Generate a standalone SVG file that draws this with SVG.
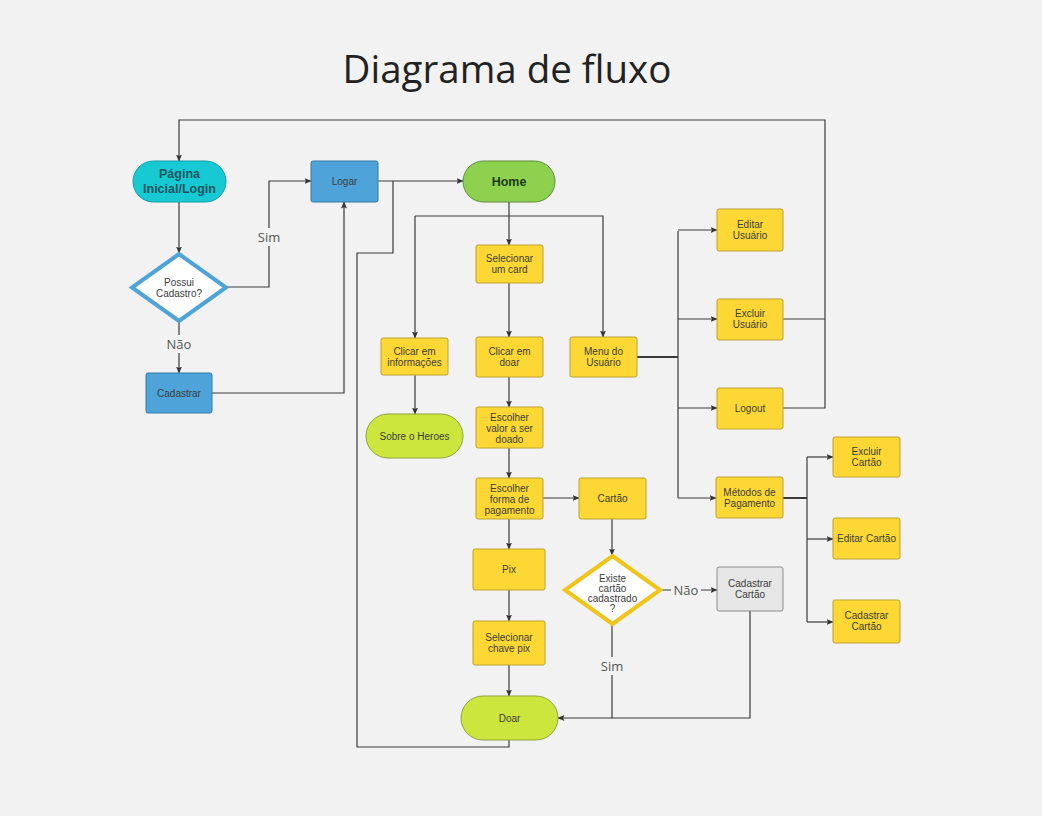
<svg xmlns="http://www.w3.org/2000/svg" width="1042" height="816" viewBox="0 0 1042 816">
<defs>
<marker id="ah" markerWidth="7" markerHeight="6" refX="6.5" refY="3" orient="auto" markerUnits="userSpaceOnUse">
<path d="M0,0 L7,3 L0,6 L1.5,3 Z" fill="#333"/>
</marker>
<style>
.c{fill:none;stroke:#3a3a3a;stroke-width:1.2}
.cb{fill:none;stroke:#3a3a3a;stroke-width:2}
.y{fill:#fdd835;stroke:#bba232;stroke-width:1}
.g{fill:#e6e6e6;stroke:#8c8c8c;stroke-width:1}
.b{fill:#4ea3d9;stroke:#357aa6;stroke-width:1}
.t{font-family:"Liberation Sans",Arial,sans-serif;font-size:10px;fill:#3c3c3c;text-anchor:middle}
.l{font-family:"Open Sans","Noto Sans",sans-serif;font-size:13px;fill:#555;text-anchor:middle}
.lb{fill:#f2f2f2}
</style>
</defs>
<rect width="1042" height="816" fill="#f2f2f2"/>
<text x="507" y="83" font-family="'Open Sans','Noto Sans',sans-serif" font-size="38.5" fill="#222" text-anchor="middle">Diagrama de fluxo</text>

<g id="connectors">
<path class="c" d="M783,319 H825 M783,408 H825 V120 H179 V161" marker-end="url(#ah)"/>
<path class="c" d="M179,202 V253" marker-end="url(#ah)"/>
<path class="c" d="M227,287 H269 V181 H311" marker-end="url(#ah)"/>
<path class="c" d="M179,322 V373" marker-end="url(#ah)"/>
<path class="c" d="M212,393 H344 V202" marker-end="url(#ah)"/>
<path class="c" d="M378,181 H463" marker-end="url(#ah)"/>
<path class="c" d="M509,740 V747 H357 V253 H393 V181"/>
<path class="c" d="M509,202 V245" marker-end="url(#ah)"/>
<path class="c" d="M415,216 H603 V337" marker-end="url(#ah)"/>
<path class="c" d="M415,216 V338" marker-end="url(#ah)"/>
<path class="c" d="M509,283 V337" marker-end="url(#ah)"/>
<path class="c" d="M415,375 V414" marker-end="url(#ah)"/>
<path class="c" d="M509,377 V407" marker-end="url(#ah)"/>
<path class="c" d="M509,448 V478" marker-end="url(#ah)"/>
<path class="c" d="M543,498 H579" marker-end="url(#ah)"/>
<path class="c" d="M509,519 V549" marker-end="url(#ah)"/>
<path class="c" d="M509,590 V621" marker-end="url(#ah)"/>
<path class="c" d="M509,665 V696" marker-end="url(#ah)"/>
<path class="c" d="M612,519 V555" marker-end="url(#ah)"/>
<path class="c" d="M612,625 V718 H558" marker-end="url(#ah)"/>
<path class="c" d="M750,611 V718 H612"/>
<path class="c" d="M661,590 H717" marker-end="url(#ah)"/>
<path class="cb" d="M637,357 H678"/>
<path class="c" d="M678,231 V498"/>
<path class="c" d="M678,230 H717" marker-end="url(#ah)"/>
<path class="c" d="M678,319 H717" marker-end="url(#ah)"/>
<path class="c" d="M678,408 H717" marker-end="url(#ah)"/>
<path class="c" d="M678,498 H716" marker-end="url(#ah)"/>
<path class="cb" d="M783,498 H807"/>
<path class="c" d="M807,457 V622"/>
<path class="c" d="M807,457 H833" marker-end="url(#ah)"/>
<path class="c" d="M807,539 H833" marker-end="url(#ah)"/>
<path class="c" d="M807,622 H833" marker-end="url(#ah)"/>
<rect class="lb" x="256" y="228" width="26" height="18"/>
<text class="l" x="269" y="242">Sim</text>
<rect class="lb" x="164" y="335" width="30" height="18"/>
<text class="l" x="179" y="349">Não</text>
<rect class="lb" x="599" y="657" width="26" height="18"/>
<text class="l" x="612" y="671">Sim</text>
<rect class="lb" x="671" y="581" width="30" height="18"/>
<text class="l" x="686" y="595">Não</text>
</g>

<g id="pagina-inicial">
<rect x="133" y="161" width="93" height="41" rx="20.5" fill="#16c9d3" stroke="#0f9ea6"/>
<text x="179.5" y="178" font-family="'Liberation Sans',Arial,sans-serif" font-size="12.5" font-weight="bold" fill="#1b5660" text-anchor="middle">Página</text>
<text x="179.5" y="193" font-family="'Liberation Sans',Arial,sans-serif" font-size="12.5" font-weight="bold" fill="#1b5660" text-anchor="middle">Inicial/Login</text>
</g>
<g id="possui-cadastro">
<path d="M179,254 L226,287.5 L179,321 L132,287.5 Z" fill="#fff" stroke="#4ea3d9" stroke-width="4" stroke-linejoin="miter"/>
<text class="t" x="179" y="286">Possui</text>
<text class="t" x="179" y="297">Cadastro?</text>
</g>
<g id="cadastrar">
<rect class="b" x="146" y="373" width="66" height="40" rx="2"/>
<text class="t" x="179" y="397">Cadastrar</text>
</g>
<g id="logar">
<rect class="b" x="311" y="161" width="67" height="41" rx="2"/>
<text class="t" x="344.5" y="185">Logar</text>
</g>
<g id="home">
<rect x="463" y="161" width="92" height="41" rx="20.5" fill="#8dd14f" stroke="#5f8e3a"/>
<text x="509" y="186" font-family="'Liberation Sans',Arial,sans-serif" font-size="12.5" font-weight="bold" fill="#1e3a12" text-anchor="middle">Home</text>
</g>
<g id="selecionar-card">
<rect class="y" x="476" y="245" width="67" height="38" rx="2"/>
<text class="t" x="509.5" y="262">Selecionar</text>
<text class="t" x="509.5" y="273">um card</text>
</g>
<g id="clicar-informacoes">
<rect class="y" x="381" y="338" width="67" height="37" rx="2"/>
<text class="t" x="414.5" y="355">Clicar em</text>
<text class="t" x="414.5" y="366">informações</text>
</g>
<g id="clicar-doar">
<rect class="y" x="476" y="337" width="67" height="40" rx="2"/>
<text class="t" x="509.5" y="355">Clicar em</text>
<text class="t" x="509.5" y="366">doar</text>
</g>
<g id="menu-usuario">
<rect class="y" x="570" y="337" width="67" height="40" rx="2"/>
<text class="t" x="603.5" y="355">Menu do</text>
<text class="t" x="603.5" y="366">Usuário</text>
</g>
<g id="sobre-heroes">
<rect x="366" y="414" width="97" height="44" rx="22" fill="#cde63e" stroke="#8fa33a"/>
<text class="t" x="414.5" y="440">Sobre o Heroes</text>
</g>
<g id="escolher-valor">
<rect class="y" x="476" y="407" width="67" height="41" rx="2"/>
<text class="t" x="509.5" y="421">Escolher</text>
<text class="t" x="509.5" y="432">valor a ser</text>
<text class="t" x="509.5" y="443">doado</text>
</g>
<g id="escolher-forma">
<rect class="y" x="476" y="478" width="67" height="41" rx="2"/>
<text class="t" x="509.5" y="492">Escolher</text>
<text class="t" x="509.5" y="503">forma de</text>
<text class="t" x="509.5" y="514">pagamento</text>
</g>
<g id="cartao">
<rect class="y" x="579" y="478" width="67" height="41" rx="2"/>
<text class="t" x="612.5" y="502">Cartão</text>
</g>
<g id="pix">
<rect class="y" x="473" y="549" width="72" height="41" rx="2"/>
<text class="t" x="509" y="573">Pix</text>
</g>
<g id="selecionar-chave">
<rect class="y" x="473" y="621" width="72" height="44" rx="2"/>
<text class="t" x="509" y="641">Selecionar</text>
<text class="t" x="509" y="652">chave pix</text>
</g>
<g id="doar">
<rect x="461" y="696" width="97" height="44" rx="22" fill="#cde63e" stroke="#8fa33a"/>
<text class="t" x="509.5" y="722">Doar</text>
</g>
<g id="existe-cartao">
<path d="M612.5,556 L660,590 L612.5,624 L565,590 Z" fill="#fff" stroke="#f0c419" stroke-width="4"/>
<text class="t" x="612.5" y="582">Existe</text>
<text class="t" x="612.5" y="592">cartão</text>
<text class="t" x="612.5" y="602">cadastrado</text>
<text class="t" x="612.5" y="612">?</text>
</g>
<g id="cadastrar-cartao-cinza">
<rect class="g" x="717" y="567" width="66" height="44" rx="2"/>
<text class="t" x="750" y="587">Cadastrar</text>
<text class="t" x="750" y="598">Cartão</text>
</g>
<g id="editar-usuario">
<rect class="y" x="717" y="209" width="66" height="42" rx="2"/>
<text class="t" x="750" y="228">Editar</text>
<text class="t" x="750" y="239">Usuário</text>
</g>
<g id="excluir-usuario">
<rect class="y" x="717" y="299" width="66" height="41" rx="2"/>
<text class="t" x="750" y="317">Excluir</text>
<text class="t" x="750" y="328">Usuário</text>
</g>
<g id="logout">
<rect class="y" x="717" y="388" width="66" height="41" rx="2"/>
<text class="t" x="750" y="412">Logout</text>
</g>
<g id="metodos-pagamento">
<rect class="y" x="716" y="477" width="67" height="41" rx="2"/>
<text class="t" x="749.5" y="496">Métodos de</text>
<text class="t" x="749.5" y="507">Pagamento</text>
</g>
<g id="excluir-cartao">
<rect class="y" x="833" y="437" width="67" height="40" rx="2"/>
<text class="t" x="866.5" y="455">Excluir</text>
<text class="t" x="866.5" y="466">Cartão</text>
</g>
<g id="editar-cartao">
<rect class="y" x="833" y="518" width="67" height="41" rx="2"/>
<text class="t" x="866.5" y="542">Editar Cartão</text>
</g>
<g id="cadastrar-cartao">
<rect class="y" x="833" y="600" width="67" height="43" rx="2"/>
<text class="t" x="866.5" y="619">Cadastrar</text>
<text class="t" x="866.5" y="630">Cartão</text>
</g>
</svg>
